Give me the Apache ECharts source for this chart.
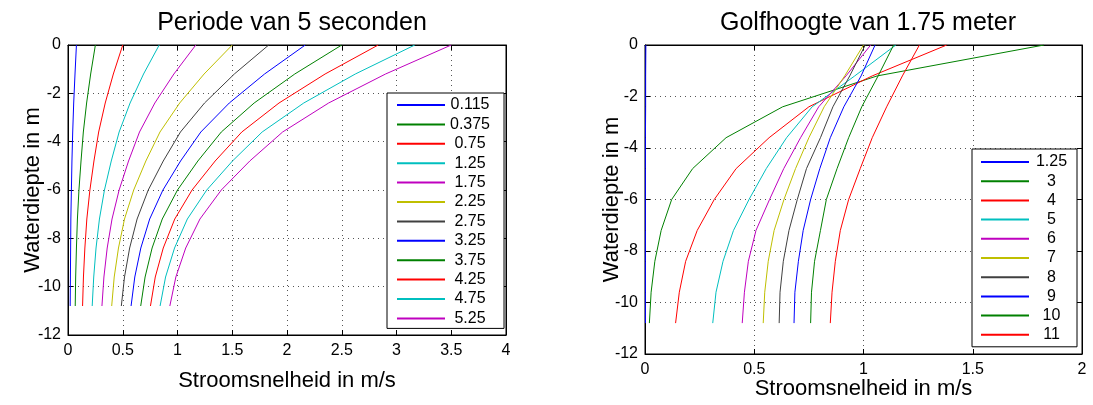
<!DOCTYPE html>
<html>
<head>
<meta charset="utf-8">
<script src="https://cdn.jsdelivr.net/npm/echarts@6/dist/echarts.min.js"></script>
<style>
html,body{margin:0;padding:0;background:#fff;}
#c{width:1093px;height:405px;}
</style>
</head>
<body>
<div id="c"></div>
<script>
// Depths below the surface (m)
const depths = [0, 1.2, 2.4, 3.6, 4.8, 6.0, 7.2, 8.4, 9.6, 10.8];

// Left chart: wave period 5 s, legend = wave height
const leftNames = ['0.115', '0.375', '0.75', '1.25', '1.75', '2.25', '2.75', '3.25', '3.75', '4.25', '4.75', '5.25'];
const L_0115 = [0.077, 0.064, 0.052, 0.043, 0.036, 0.031, 0.026, 0.024, 0.022, 0.020];
const L_0375 = [0.250, 0.207, 0.170, 0.140, 0.119, 0.100, 0.086, 0.077, 0.070, 0.066];
const L_075  = [0.500, 0.414, 0.340, 0.280, 0.237, 0.200, 0.172, 0.154, 0.141, 0.133];
const L_125  = [0.833, 0.690, 0.567, 0.467, 0.395, 0.333, 0.287, 0.256, 0.235, 0.221];
const L_175  = [1.167, 0.967, 0.793, 0.653, 0.553, 0.467, 0.402, 0.358, 0.328, 0.310];
const L_225  = [1.500, 1.243, 1.020, 0.840, 0.711, 0.600, 0.516, 0.461, 0.422, 0.399];
const L_275  = [1.833, 1.519, 1.247, 1.027, 0.870, 0.733, 0.631, 0.563, 0.516, 0.487];
const L_325  = [2.167, 1.795, 1.473, 1.213, 1.028, 0.867, 0.746, 0.665, 0.610, 0.576];
const L_375  = [2.500, 2.071, 1.700, 1.400, 1.186, 1.000, 0.861, 0.768, 0.704, 0.664];
const L_425  = [2.833, 2.348, 1.927, 1.587, 1.344, 1.133, 0.975, 0.870, 0.797, 0.753];
const L_475  = [3.167, 2.624, 2.153, 1.773, 1.502, 1.267, 1.090, 0.973, 0.891, 0.841];
const L_525  = [3.500, 2.900, 2.380, 1.960, 1.660, 1.400, 1.205, 1.075, 0.985, 0.930];

// Right chart: wave height 1.75 m, legend = wave period
const rightNames = ['1.25', '3', '4', '5', '6', '7', '8', '9', '10', '11'];
const R_125 = [0.004, 0.003, 0.003, 0.002, 0.002, 0.002, 0.002, 0.002, 0.002, 0.002];
const R_3   = [1.826, 1.063, 0.630, 0.371, 0.218, 0.122, 0.074, 0.045, 0.028, 0.020];
const R_4   = [1.381, 1.040, 0.750, 0.568, 0.417, 0.317, 0.239, 0.186, 0.157, 0.140];
const R_5   = [1.148, 0.960, 0.765, 0.648, 0.555, 0.476, 0.405, 0.357, 0.325, 0.310];
const R_6   = [1.033, 0.920, 0.795, 0.712, 0.635, 0.570, 0.508, 0.473, 0.455, 0.445];
const R_7   = [1.000, 0.914, 0.820, 0.750, 0.689, 0.636, 0.591, 0.564, 0.548, 0.541];
const R_8   = [1.008, 0.937, 0.860, 0.803, 0.739, 0.697, 0.659, 0.633, 0.618, 0.614];
const R_9   = [1.053, 0.989, 0.910, 0.848, 0.800, 0.758, 0.724, 0.702, 0.686, 0.682];
const R_10  = [1.138, 1.067, 0.992, 0.932, 0.879, 0.830, 0.803, 0.776, 0.762, 0.758];
const R_11  = [1.256, 1.178, 1.106, 1.040, 0.985, 0.932, 0.894, 0.871, 0.856, 0.848];

const leftValues = [L_0115, L_0375, L_075, L_125, L_175, L_225, L_275, L_325, L_375, L_425, L_475, L_525];
const rightValues = [R_125, R_3, R_4, R_5, R_6, R_7, R_8, R_9, R_10, R_11];

const palette = ['#0000FF', '#008000', '#FF0000', '#00BFBF', '#BF00BF', '#BFBF00', '#404040'];
const FONT = 'Liberation Sans, Arial, Helvetica, sans-serif';

function pairs(vals) { return vals.map((v, i) => [v, -depths[i]]); }

const gridLine = { show: true, lineStyle: { color: '#555', type: [1, 4], width: 1 } };
function mainX(gi, max, name, gap) {
  return {
    type: 'value', gridIndex: gi, min: 0, max: max, interval: 0.5, position: 'bottom',
    name: name, nameLocation: 'middle', nameGap: gap, nameMoveOverlap: false,
    nameTextStyle: { fontFamily: FONT, fontSize: 22, color: '#000' },
    axisLine: { show: true, onZero: false, lineStyle: { color: '#000', width: 1 } },
    axisTick: { show: true, inside: true, length: 5, lineStyle: { color: '#000' } },
    axisLabel: { fontFamily: FONT, fontSize: 16, color: '#000', margin: 8 },
    splitLine: gridLine
  };
}
function mirrorX(gi, max) {
  return {
    type: 'value', gridIndex: gi, min: 0, max: max, interval: 0.5, position: 'top',
    axisLine: { show: true, onZero: false, lineStyle: { color: '#000', width: 1 } },
    axisTick: { show: true, inside: true, length: 5, lineStyle: { color: '#000' } },
    axisLabel: { show: false }, splitLine: { show: false }
  };
}
function mainY(gi, name, gap) {
  return {
    type: 'value', gridIndex: gi, min: -12, max: 0, interval: 2, position: 'left',
    name: name, nameLocation: 'middle', nameGap: gap, nameRotate: 90, nameMoveOverlap: false,
    nameTextStyle: { fontFamily: FONT, fontSize: 22, color: '#000' },
    axisLine: { show: true, onZero: false, lineStyle: { color: '#000', width: 1 } },
    axisTick: { show: true, inside: true, length: 5, lineStyle: { color: '#000' } },
    axisLabel: { fontFamily: FONT, fontSize: 16, color: '#000', margin: 7 },
    splitLine: gridLine
  };
}
function mirrorY(gi) {
  return {
    type: 'value', gridIndex: gi, min: -12, max: 0, interval: 2, position: 'right',
    axisLine: { show: true, onZero: false, lineStyle: { color: '#000', width: 1 } },
    axisTick: { show: true, inside: true, length: 5, lineStyle: { color: '#000' } },
    axisLabel: { show: false }, splitLine: { show: false }
  };
}

const series = [];
leftValues.forEach((vals, i) => {
  series.push({
    name: leftNames[i], type: 'line', xAxisIndex: 0, yAxisIndex: 0,
    data: pairs(vals), showSymbol: false, symbol: 'none',
    color: palette[i % palette.length],
    lineStyle: { width: 1, color: palette[i % palette.length] }
  });
});
rightValues.forEach((vals, i) => {
  series.push({
    name: 'R' + rightNames[i], type: 'line', xAxisIndex: 2, yAxisIndex: 2,
    data: pairs(vals), showSymbol: false, symbol: 'none',
    color: palette[i % palette.length],
    lineStyle: { width: 1, color: palette[i % palette.length] }
  });
});

function legendCfg(names, left, top, textW, pad, gap, fmt) {
  return {
    orient: 'vertical', left: left, top: top, selectedMode: false,
    data: names, icon: 'rect', itemWidth: 48, itemHeight: 2, itemGap: gap,
    padding: pad, borderColor: '#000', borderWidth: 1, backgroundColor: '#fff',
    formatter: fmt,
    textStyle: { fontFamily: FONT, fontSize: 16, color: '#000',
      rich: { a: { width: textW, align: 'center', fontFamily: FONT, fontSize: 16, lineHeight: 16, color: '#000' } } }
  };
}

const option = {
  animation: false,
  backgroundColor: '#fff',
  title: [
    { text: 'Periode van 5 seconden', left: 287, top: 6, textAlign: 'center',
      textStyle: { fontFamily: FONT, fontSize: 25, fontWeight: 'normal', color: '#000' } },
    { text: 'Golfhoogte van 1.75 meter', left: 863, top: 6, textAlign: 'center',
      textStyle: { fontFamily: FONT, fontSize: 25, fontWeight: 'normal', color: '#000' } }
  ],
  grid: [
    { left: 68, top: 45, width: 438, height: 290, show: true, borderColor: '#000', borderWidth: 1, backgroundColor: '#fff' },
    { left: 645, top: 45, width: 437, height: 310, show: true, borderColor: '#000', borderWidth: 1, backgroundColor: '#fff' }
  ],
  xAxis: [
    mainX(0, 4, 'Stroomsnelheid in m/s', 35), mirrorX(0, 4),
    mainX(1, 2, 'Stroomsnelheid in m/s', 24), mirrorX(1, 2)
  ],
  yAxis: [
    mainY(0, 'Waterdiepte in m', 24), mirrorY(0),
    mainY(1, 'Waterdiepte in m', 22), mirrorY(1)
  ],
  legend: [
    legendCfg(leftNames, 387, 93, 40, [4, 14, 2, 10], 3.4, n => '{a|' + n + '}'),
    legendCfg(rightNames.map(n => 'R' + n), 972, 149, 35, [5, 8, 4, 9], 3.2, n => '{a|' + n.slice(1) + '}')
  ],
  series: series
};

const chart = echarts.init(document.getElementById('c'), null, { renderer: 'canvas' });
chart.setOption(option);
</script>
</body>
</html>
